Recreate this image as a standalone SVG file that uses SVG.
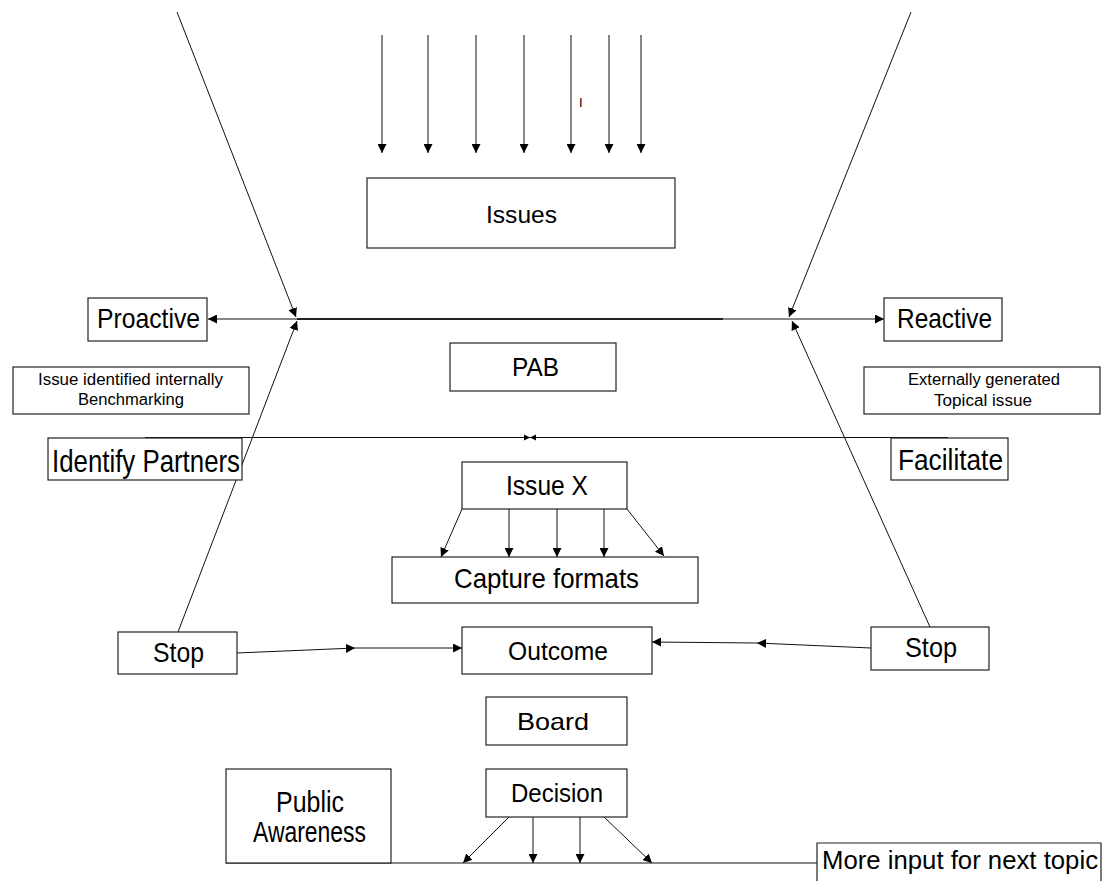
<svg xmlns="http://www.w3.org/2000/svg" width="1105" height="881" viewBox="0 0 1105 881">
<style>
.box{fill:#fff;stroke:#222;stroke-width:1.2}
.ln{fill:none;stroke:#111;stroke-width:1}
.t{font-family:"Liberation Sans",Arial,sans-serif;fill:#000}
</style>
<defs>
<marker id="ah" viewBox="0 0 10 10" refX="10" refY="5" markerWidth="9" markerHeight="9" markerUnits="userSpaceOnUse" orient="auto">
<path d="M0,0 L10,5 L0,10 z" fill="#000"/>
</marker>
</defs>
<rect width="1105" height="881" fill="#fff"/>
<g id="connectors">
<line class="ln" x1="177" y1="12" x2="296" y2="317" marker-end="url(#ah)"/>
<line class="ln" x1="178" y1="632" x2="297" y2="321" marker-end="url(#ah)"/>
<line class="ln" x1="911" y1="12" x2="789" y2="317" marker-end="url(#ah)"/>
<line class="ln" x1="930" y1="627" x2="792" y2="321" marker-end="url(#ah)"/>
<line class="ln" x1="297" y1="319" x2="208" y2="319" marker-end="url(#ah)"/>
<line class="ln" x1="790" y1="319" x2="884" y2="319" marker-end="url(#ah)"/>
<line class="ln" x1="297" y1="319" x2="790" y2="319"/>
<line x1="297" y1="319" x2="723" y2="319" stroke="#000" stroke-width="1.6"/>
<line class="ln" x1="382" y1="35" x2="382" y2="153" marker-end="url(#ah)"/>
<line class="ln" x1="428" y1="35" x2="428" y2="153" marker-end="url(#ah)"/>
<line class="ln" x1="476" y1="35" x2="476" y2="153" marker-end="url(#ah)"/>
<line class="ln" x1="524" y1="35" x2="524" y2="153" marker-end="url(#ah)"/>
<line class="ln" x1="571" y1="35" x2="571" y2="153" marker-end="url(#ah)"/>
<line class="ln" x1="609" y1="35" x2="609" y2="153" marker-end="url(#ah)"/>
<line class="ln" x1="641" y1="35" x2="641" y2="153" marker-end="url(#ah)"/>
<line class="ln" x1="145" y1="437.5" x2="948" y2="437.5"/>
<path d="M524,434.5 L530,437.5 L524,440.5 z M536,434.5 L530,437.5 L536,440.5 z" fill="#000"/>
<line class="ln" x1="462" y1="509" x2="441" y2="557" marker-end="url(#ah)"/>
<line class="ln" x1="509" y1="509" x2="509" y2="557" marker-end="url(#ah)"/>
<line class="ln" x1="557" y1="509" x2="557" y2="557" marker-end="url(#ah)"/>
<line class="ln" x1="604" y1="509" x2="604" y2="557" marker-end="url(#ah)"/>
<line class="ln" x1="627" y1="509" x2="664" y2="556" marker-end="url(#ah)"/>
<line class="ln" x1="237" y1="653" x2="355" y2="648" marker-end="url(#ah)"/>
<line class="ln" x1="355" y1="648" x2="462" y2="648" marker-end="url(#ah)"/>
<line class="ln" x1="871" y1="648" x2="757" y2="643" marker-end="url(#ah)"/>
<line class="ln" x1="757" y1="643" x2="652" y2="642" marker-end="url(#ah)"/>
<line class="ln" x1="226" y1="863" x2="817" y2="863" stroke="#333" stroke-width="1.3"/>
<line class="ln" x1="509" y1="817" x2="463" y2="863" marker-end="url(#ah)"/>
<line class="ln" x1="533" y1="817" x2="533" y2="863" marker-end="url(#ah)"/>
<line class="ln" x1="580" y1="817" x2="580" y2="863" marker-end="url(#ah)"/>
<line class="ln" x1="604" y1="817" x2="652" y2="863" marker-end="url(#ah)"/>
</g>
<g id="tick"><text class="t" x="579" y="107" font-size="13">I</text></g>
<g id="issues"><rect class="box" x="367" y="178" width="308" height="70"/><text class="t" x="486" y="223" font-size="23" textLength="71" lengthAdjust="spacingAndGlyphs">Issues</text></g>
<g id="proactive"><rect class="box" x="88" y="298" width="119" height="43"/><text class="t" x="97" y="328" font-size="28" textLength="103" lengthAdjust="spacingAndGlyphs">Proactive</text></g>
<g id="reactive"><rect class="box" x="884" y="298" width="118" height="43"/><text class="t" x="897" y="328" font-size="28" textLength="95" lengthAdjust="spacingAndGlyphs">Reactive</text></g>
<g id="pab"><rect class="box" x="450" y="343" width="166" height="48"/><text class="t" x="512" y="376" font-size="26" textLength="47" lengthAdjust="spacingAndGlyphs">PAB</text></g>
<g id="internal"><rect class="box" x="13" y="367" width="236" height="47"/><text class="t" x="38" y="385" font-size="16" textLength="185" lengthAdjust="spacingAndGlyphs">Issue identified internally</text><text class="t" x="78" y="405" font-size="16" textLength="106" lengthAdjust="spacingAndGlyphs">Benchmarking</text></g>
<g id="external"><rect class="box" x="864" y="367" width="236" height="47"/><text class="t" x="908" y="385" font-size="16" textLength="152" lengthAdjust="spacingAndGlyphs">Externally generated</text><text class="t" x="934" y="406" font-size="16" textLength="98" lengthAdjust="spacingAndGlyphs">Topical issue</text></g>
<g id="partners"><rect class="box" x="48" y="438" width="194" height="42"/><text class="t" x="52" y="472" font-size="32" textLength="188" lengthAdjust="spacingAndGlyphs">Identify Partners</text></g>
<g id="facilitate"><rect class="box" x="891" y="438" width="117" height="42"/><text class="t" x="898" y="470" font-size="30" textLength="105" lengthAdjust="spacingAndGlyphs">Facilitate</text></g>
<g id="issuex"><rect class="box" x="462" y="462" width="165" height="47"/><text class="t" x="506" y="495" font-size="28" textLength="82" lengthAdjust="spacingAndGlyphs">Issue X</text></g>
<g id="capture"><rect class="box" x="392" y="557" width="306" height="46"/><text class="t" x="454" y="588" font-size="28" textLength="185" lengthAdjust="spacingAndGlyphs">Capture formats</text></g>
<g id="stop-left"><rect class="box" x="118" y="632" width="119" height="42"/><text class="t" x="153" y="662" font-size="28" textLength="51" lengthAdjust="spacingAndGlyphs">Stop</text></g>
<g id="outcome"><rect class="box" x="462" y="627" width="190" height="47"/><text class="t" x="508" y="660" font-size="26" textLength="100" lengthAdjust="spacingAndGlyphs">Outcome</text></g>
<g id="stop-right"><rect class="box" x="871" y="627" width="118" height="43"/><text class="t" x="905" y="657" font-size="28" textLength="52" lengthAdjust="spacingAndGlyphs">Stop</text></g>
<g id="board"><rect class="box" x="486" y="697" width="141" height="48"/><text class="t" x="517" y="730" font-size="24" textLength="72" lengthAdjust="spacingAndGlyphs">Board</text></g>
<g id="decision"><rect class="box" x="486" y="769" width="141" height="48"/><text class="t" x="511" y="802" font-size="26" textLength="92" lengthAdjust="spacingAndGlyphs">Decision</text></g>
<g id="public"><rect class="box" x="226" y="769" width="165" height="94"/><text class="t" x="276" y="812" font-size="29" textLength="68" lengthAdjust="spacingAndGlyphs">Public</text><text class="t" x="253" y="842" font-size="29" textLength="113" lengthAdjust="spacingAndGlyphs">Awareness</text></g>
<g id="more"><path class="box" d="M817,881 L817,843 L1101,843 L1101,881"/><text class="t" x="822" y="869" font-size="26" textLength="276" lengthAdjust="spacingAndGlyphs">More input for next topic</text></g>
</svg>
